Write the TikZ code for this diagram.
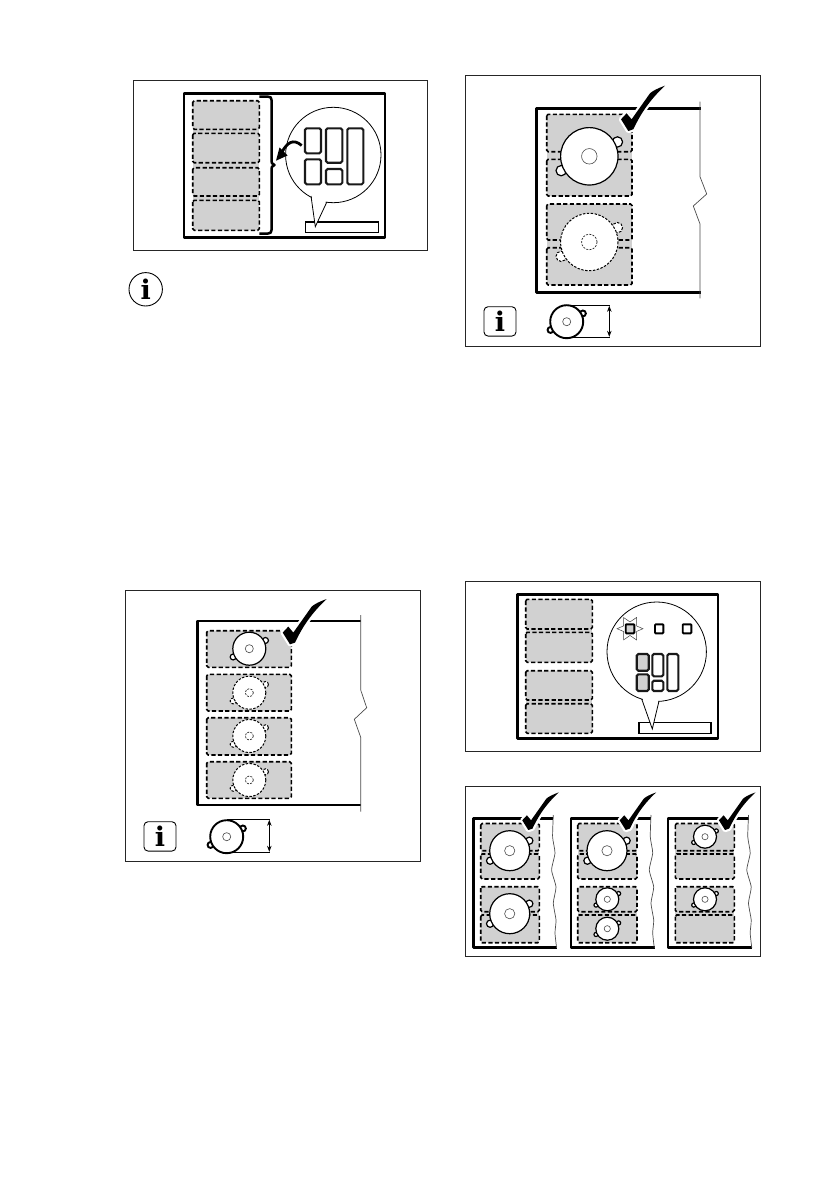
\documentclass[tikz,border=0pt]{standalone}
\usepackage{fontspec}
\newfontfamily\iconfont{DejaVu Serif}
\usetikzlibrary{arrows.meta}
\definecolor{zonegray}{HTML}{D1D1D1}
\tikzset{
  frame/.style={draw=black!85,line width=0.8pt},
  thick outline/.style={draw=black,line width=2.7pt,line cap=butt,line join=round},
  thin edge/.style={draw=black!70,line width=0.7pt,line join=miter},
  zone/.style={draw=black,fill=zonegray,line width=1.6pt,dash pattern=on 4.2pt off 2.4pt,rounded corners=1.5pt},
  gapfill/.style={fill=zonegray},
  btn/.style={draw=black!90,fill=white,line width=2.1pt,rounded corners=1.6pt},
  btngray/.style={btn,fill=zonegray},
  barbox/.style={draw=black,fill=white,line width=1.3pt},
  hobsolid/.style={draw=black,fill=white,line width=1.2pt},
  hobghost/.style={draw=black,fill=white,line width=1pt,dash pattern=on 2.4pt off 1.5pt},
  hobkey/.style={draw=black,fill=white,line width=1.9pt},
  hobinner/.style={draw=black!70,fill=white,line width=0.6pt},
  hobinnerghost/.style={draw=black!85,fill=white,line width=0.7pt,dash pattern=on 2pt off 1.3pt},
  iglyph/.style={inner sep=0pt,font=\iconfont\bfseries\fontsize{27}{27}\selectfont},
  dimline/.style={draw=black,line width=0.8pt},
}
% hob: {x}{y}{radius}{outline style}
\newcommand\hobdraw[4]{%
  \begin{scope}[shift={(#1,#2)}]
    \path[#4] ({0.98*#3},{-0.5*#3}) circle[radius={0.18*#3}];
    \path[#4] ({-0.98*#3},{0.5*#3}) circle[radius={0.18*#3}];
    \path[#4] (0,0) circle[radius=#3];
  \end{scope}}
\newcommand\hobcentre[4]{\path[#4] (#1,#2) circle[radius={0.27*#3}];}
% check mark with bottom vertex at x,y
\newcommand\tick[3]{%
  \begin{scope}[shift={(#1,#2)},scale=#3]
   \path[draw=white,line width=4.5pt,line join=round,fill=white]
     (36.7,-45.3) .. controls (30,-43) and (24,-40) .. (21.7,-37.7)
     -- (3.3,-11.7) -- (-1.7,-17.7) -- (-7.3,-11.7) -- (0,0) -- (5,-1.7)
     .. controls (10,-12) and (18,-28) .. (36.7,-45.3) -- cycle;
   \path[fill=black]
     (36.7,-45.3) .. controls (30,-43) and (24,-40) .. (21.7,-37.7)
     -- (3.3,-11.7) -- (-1.7,-17.7) -- (-7.3,-11.7) -- (0,0) -- (5,-1.7)
     .. controls (10,-12) and (18,-28) .. (36.7,-45.3) -- cycle;
  \end{scope}}
\newcommand\wavy[1]{%
  \begin{scope}[shift={(#1,0)}]
   \draw[thin edge] plot[smooth,tension=0.35] coordinates {(0,815) (-0.7,837) (1.7,853) (-1.7,870) (2.7,887) (0,903) (2.7,920) (1.7,933) (3.3,948)};
  \end{scope}}
\begin{document}
\begin{tikzpicture}[x=1pt,y=-1pt]
\useasboundingbox (0,0) rectangle (839,1191);
\fill[white] (0,0) rectangle (839,1191);

%% ---------- panel 1
\draw[frame] (133.5,80.3) rectangle (427.5,250.3);
\draw[thick outline] (184,93.3) rectangle (385,237.7);
\path[gapfill] (192.7,110) rectangle (259.3,220);
\foreach \a/\b in {100.7/129.3,133.3/162.7,167.7/196,200.3/230.3}
  \path[zone] (192.7,\a) rectangle (259.3,\b);
\draw[line width=2.5pt,line join=round] (259.3,96.7) -- (268,96.7) .. controls (271,97) .. (271.5,100) -- (271.5,161)
   .. controls (271.5,163) .. (274.5,165) .. controls (271.5,167) .. (271.5,169) -- (271.5,230)
   .. controls (271,233) .. (268,233.5) -- (259.3,233.5);
\path[barbox] (305.7,222) rectangle (378.3,232.3);
\draw[line width=0.8pt,fill=white] (333.3,155) circle[radius=47.7];
\path[fill=white] (311.5,193) -- (315.3,226.7) -- (326.7,199) -- cycle;
\draw[line width=0.8pt,line join=miter] (311,196) -- (315.3,226.7) -- (326.7,202.3);
\path[btn] (305,128.3) rectangle (321,153.3);
\path[btn] (305,159.3) rectangle (321,184.3);
\path[btn] (326,128.3) rectangle (342.3,162.7);
\path[btn] (326,169) rectangle (342.3,184.3);
\path[btn] (347.3,128.3) rectangle (363.3,184.3);
\draw[line width=2.8pt] (301.7,145.5) .. controls (293,138) and (287,143) .. (282,152);
\path[fill=black] (276,160.7) -- (279.5,147.5) -- (287.5,155.5) -- cycle;
\node[circle,draw=black,line width=0.9pt,minimum size=33.4pt,inner sep=0pt,iglyph] (info1) at (145.7,289.3) {i};

%% ---------- panel 2
\draw[frame] (465.3,75) rectangle (760,346.7);
\path[gapfill] (546.7,125) rectangle (632,185);
\path[gapfill] (546.7,215) rectangle (632,275);
\foreach \a/\b in {114.3/151.7,159.3/196,204/240,247.7/285}
  \path[zone] (546.7,\a) rectangle (632,\b);
\draw[thick outline] (700.7,108.3) -- (536.7,108.3) -- (536.7,292.3) -- (700.7,292.3);
\draw[thin edge] (700,101.7) -- (700,176.7) -- (706.7,194) -- (693.3,206) -- (700,224) -- (700,298.3);
\hobdraw{589.3}{156.3}{28.7}{hobsolid}
\hobcentre{589.3}{156.3}{28.7}{hobinner}
\hobdraw{589.3}{242}{28.7}{hobghost}
\hobcentre{589.3}{242}{28.7}{hobinnerghost}
\tick{628.3}{131}{1}
\node[draw=black,line width=0.9pt,rounded corners=4pt,minimum width=32pt,minimum height=29.3pt,inner sep=0pt,iglyph] (info2) at (500,321.4) {i};
\draw[dimline] (566.7,305.3) -- (609.5,305.3);
\draw[dimline] (566.7,337.3) -- (609.5,337.3);
\hobdraw{566.7}{321.7}{16.5}{hobkey}
\hobcentre{566.7}{321.7}{15}{hobinner}
\coordinate (dimA) at (609.3,305.8); \coordinate (dimB) at (609.3,336.8);
\draw[line width=0.8pt,{Stealth[length=6pt,width=4.5pt]}-{Stealth[length=6pt,width=4.5pt]}] (dimA) -- (dimB);

%% ---------- panel 3
\draw[frame] (125.3,590) rectangle (420,861.7);
\foreach \a/\b in {630.7/667.3,674.3/711,717.7/755,761.7/798.3}
  \path[zone] (206.7,\a) rectangle (291.3,\b);
\draw[thick outline] (360.7,621) -- (197.3,621) -- (197.3,805) -- (360.7,805);
\draw[thin edge] (360.7,615) -- (360.7,690) -- (366.7,707.7) -- (354.3,719.3) -- (360.7,737.3) -- (360.7,811.7);
\hobdraw{249.3}{648.7}{16.5}{hobsolid}
\hobcentre{249.3}{648.7}{15}{hobinner}
\foreach \c in {692.7,736,780}{
  \hobdraw{249.3}{\c}{16.5}{hobghost}
  \hobcentre{249.3}{\c}{15}{hobinnerghost}
}
\tick{290}{644.3}{1}
\node[draw=black,line width=0.9pt,rounded corners=4pt,minimum width=32pt,minimum height=29.3pt,inner sep=0pt,iglyph] (info3) at (160,836.4) {i};
\draw[dimline] (226.7,819.3) -- (269.5,819.3);
\draw[dimline] (226.7,852.3) -- (269.5,852.3);
\hobdraw{226.7}{836.7}{16.5}{hobkey}
\hobcentre{226.7}{836.7}{15}{hobinner}
\coordinate (dimC) at (269.3,819.8); \coordinate (dimD) at (269.3,851.8);
\draw[line width=0.8pt,{Stealth[length=6pt,width=4.5pt]}-{Stealth[length=6pt,width=4.5pt]}] (dimC) -- (dimD);

%% ---------- panel 4
\draw[frame] (465.3,581) rectangle (760,751);
\draw[thick outline] (517.3,594.3) rectangle (718,738.7);
\path[gapfill] (525.7,610) rectangle (592.3,650);
\path[gapfill] (525.7,680) rectangle (592.3,720);
\foreach \a/\b in {599.3/629,632.3/662.3,670.7/700,703.7/733.3}
  \path[zone] (525.7,\a) rectangle (592.3,\b);
\path[barbox] (639,722.7) rectangle (711,733.3);
\draw[line width=0.8pt,fill=white] (656.7,651.7) circle[radius=49.7];
\path[fill=white] (642,696) -- (652.3,729) -- (659,698) -- cycle;
\draw[line width=0.8pt,line join=miter] (641.7,699) -- (652.3,729) -- (659,701);
\draw[line width=0.5pt,black!75,fill=white,line join=miter]
  (642.9,628.7) -- (636.5,631.5) -- (636.5,639.9) -- (630,635.5) -- (623.5,639.9) -- (623.5,631.5) -- (617.1,628.7)
  -- (623.5,625.9) -- (623.5,617.5) -- (630,621.9) -- (636.5,617.5) -- (636.5,625.9) -- cycle;
\draw[line width=1.9pt,fill=zonegray,rounded corners=0.8pt] (625.7,624.3) rectangle (634.3,633.3);
\draw[line width=1.9pt,rounded corners=0.8pt] (655,624.3) rectangle (663.3,633.3);
\draw[line width=1.9pt,rounded corners=0.8pt] (682.7,624.3) rectangle (691.3,633.3);
\path[btngray] (636.7,654) rectangle (648.7,670.7);
\path[btngray] (636.7,674.3) rectangle (648.7,691);
\path[btn] (652.3,654) rectangle (663.3,676.3);
\path[btn] (652.3,680.7) rectangle (663.3,691);
\path[btn] (667.3,654) rectangle (678.3,691);

%% ---------- panel 5
\draw[frame] (465.3,786.7) rectangle (760,956);
% column A
\path[gapfill] (480.7,835) rectangle (539.3,870);
\path[gapfill] (480.7,895) rectangle (539.3,930);
\foreach \a/\b in {823.5/850.7,854/879,886.7/911.7,915/942.7}
  \path[zone] (480.7,\a) rectangle (539.3,\b);
\draw[thick outline] (552.7,818.3) -- (473.3,818.3) -- (473.3,947.7) -- (556.7,947.7);
\wavy{553.3}
\hobdraw{509.7}{850.7}{20}{hobsolid}
\hobcentre{509.7}{850.7}{19}{hobinner}
\hobdraw{509.7}{913.7}{20}{hobsolid}
\hobcentre{509.7}{913.7}{19}{hobinner}
\tick{528.3}{830}{0.83}
% column B
\path[gapfill] (577.7,835) rectangle (637,870);
\path[gapfill] (577.7,895) rectangle (637,930);
\foreach \a/\b in {823.5/850.7,854/879,886.7/911.7,915/942.7}
  \path[zone] (577.7,\a) rectangle (637,\b);
\draw[thick outline] (650.7,818.3) -- (571,818.3) -- (571,947.7) -- (655,947.7);
\wavy{651}
\hobdraw{607}{850.7}{20}{hobsolid}
\hobcentre{607}{850.7}{19}{hobinner}
\hobdraw{607.3}{899.3}{11.5}{hobsolid}
\hobcentre{607.3}{899.3}{11.5}{hobinner}
\hobdraw{607.3}{928.7}{11.5}{hobsolid}
\hobcentre{607.3}{928.7}{11.5}{hobinner}
\tick{625.7}{830}{0.83}
% column C
\path[gapfill] (675.3,835) rectangle (734.3,870);
\path[gapfill] (675.3,895) rectangle (734.3,930);
\foreach \a/\b in {823.5/850.7,854/879,886.7/911.7,915/942.7}
  \path[zone] (675.3,\a) rectangle (734.3,\b);
\draw[thick outline] (748.7,818.3) -- (668,818.3) -- (668,947.7) -- (751.7,947.7);
\wavy{748.5}
\hobdraw{705}{836.7}{11.5}{hobsolid}
\hobcentre{705}{836.7}{11.5}{hobinner}
\hobdraw{705}{899.3}{11.5}{hobsolid}
\hobcentre{705}{899.3}{11.5}{hobinner}
\tick{725}{830}{0.83}
\end{tikzpicture}
\end{document}
